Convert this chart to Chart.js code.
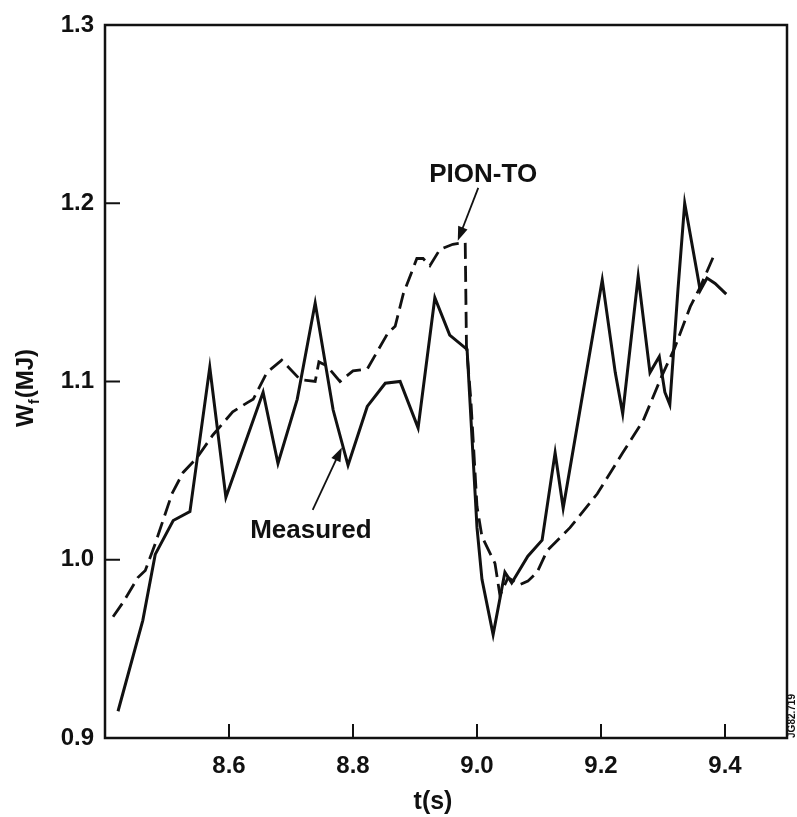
<!DOCTYPE html>
<html>
<head>
<meta charset="utf-8">
<script src="https://cdn.jsdelivr.net/npm/chart.js@4"></script>
<style>
  body { margin: 0; background: #fff; }
  #grafico { display: block; }
</style>
</head>
<body>
<canvas id="grafico" width="797" height="817"></canvas>
<script>
// valores
let measuredT = [8.421, 8.461, 8.481, 8.510, 8.537, 8.569, 8.595, 8.655, 8.679, 8.710, 8.739, 8.768, 8.792, 8.823, 8.852, 8.876, 8.905, 8.932, 8.956, 8.984, 9.000, 9.008, 9.026, 9.045, 9.056, 9.082, 9.105, 9.126, 9.139, 9.202, 9.223, 9.235, 9.260, 9.279, 9.294, 9.303, 9.311, 9.324, 9.335, 9.355, 9.360, 9.371, 9.384, 9.402]
let measuredW = [0.915, 0.966, 1.003, 1.022, 1.027, 1.108, 1.035, 1.094, 1.054, 1.090, 1.144, 1.084, 1.053, 1.086, 1.099, 1.100, 1.074, 1.147, 1.126, 1.118, 1.018, 0.989, 0.958, 0.993, 0.987, 1.002, 1.011, 1.060, 1.029, 1.157, 1.105, 1.082, 1.159, 1.105, 1.114, 1.094, 1.087, 1.151, 1.200, 1.161, 1.151, 1.158, 1.155, 1.149]

let pionT = [8.413, 8.429, 8.453, 8.465, 8.481, 8.508, 8.526, 8.548, 8.574, 8.606, 8.629, 8.639, 8.661, 8.685, 8.715, 8.739, 8.745, 8.757, 8.779, 8.800, 8.823, 8.856, 8.868, 8.881, 8.903, 8.913, 8.924, 8.940, 8.961, 8.981, 8.983, 8.990, 9.000, 9.008, 9.029, 9.037, 9.050, 9.069, 9.082, 9.097, 9.113, 9.150, 9.194, 9.235, 9.268, 9.298, 9.319, 9.344, 9.360, 9.385]
let pionW = [0.968, 0.976, 0.990, 0.994, 1.009, 1.037, 1.049, 1.057, 1.070, 1.083, 1.088, 1.090, 1.105, 1.112, 1.101, 1.100, 1.111, 1.109, 1.100, 1.106, 1.107, 1.127, 1.131, 1.149, 1.169, 1.169, 1.165, 1.174, 1.177, 1.178, 1.120, 1.090, 1.030, 1.013, 0.998, 0.980, 0.990, 0.986, 0.988, 0.993, 1.005, 1.018, 1.037, 1.060, 1.078, 1.103, 1.119, 1.142, 1.153, 1.173]

let xTicks = [8.6, 8.8, 9.0, 9.2, 9.4]
let yTicks = [0.9, 1.0, 1.1, 1.2, 1.3]

// anotacoes: texto e seta (em unidades dos eixos)
let notas = [
    { texto: 'PION-TO', t: 9.010, w: 1.216, de: [9.002, 1.2086], para: [8.969, 1.179] },
    { texto: 'Measured', t: 8.732, w: 1.016, de: [8.735, 1.028], para: [8.782, 1.063] }
]

const tinta = '#111'
const fonte = 'Liberation Sans, Arial, sans-serif'

const pares = (xs, ys) => xs.map((x, i) => ({ x: x, y: ys[i] }))

function seta(ctx, x1, y1, x2, y2) {
    let ang = Math.atan2(y2 - y1, x2 - x1)
    ctx.beginPath()
    ctx.moveTo(x1, y1)
    ctx.lineTo(x2 - 8 * Math.cos(ang), y2 - 8 * Math.sin(ang))
    ctx.lineWidth = 1.8
    ctx.stroke()
    ctx.beginPath()
    ctx.moveTo(x2, y2)
    ctx.lineTo(x2 - 14 * Math.cos(ang) + 5 * Math.sin(ang), y2 - 14 * Math.sin(ang) - 5 * Math.cos(ang))
    ctx.lineTo(x2 - 14 * Math.cos(ang) - 5 * Math.sin(ang), y2 - 14 * Math.sin(ang) + 5 * Math.cos(ang))
    ctx.closePath()
    ctx.fill()
}

const moldura = {
    id: 'moldura',
    afterDraw(chart) {
        let ctx = chart.ctx
        let a = chart.chartArea
        let sx = chart.scales.x
        let sy = chart.scales.y
        ctx.save()
        ctx.strokeStyle = tinta
        ctx.fillStyle = tinta
        ctx.lineWidth = 2.5
        ctx.strokeRect(a.left, a.top, a.right - a.left, a.bottom - a.top)

        // marcas para dentro
        ctx.lineWidth = 2
        xTicks.forEach(v => {
            let px = sx.getPixelForValue(v)
            ctx.beginPath()
            ctx.moveTo(px, a.bottom)
            ctx.lineTo(px, a.bottom - 14)
            ctx.stroke()
        })
        yTicks.forEach(v => {
            let py = sy.getPixelForValue(v)
            ctx.beginPath()
            ctx.moveTo(a.left, py)
            ctx.lineTo(a.left + 15, py)
            ctx.stroke()
        })

        // anotacoes
        ctx.font = 'bold 26px ' + fonte
        ctx.textAlign = 'center'
        ctx.textBaseline = 'middle'
        notas.forEach(n => {
            ctx.fillText(n.texto, sx.getPixelForValue(n.t), sy.getPixelForValue(n.w))
            seta(ctx, sx.getPixelForValue(n.de[0]), sy.getPixelForValue(n.de[1]),
                sx.getPixelForValue(n.para[0]), sy.getPixelForValue(n.para[1]))
        })

        // titulo do eixo x
        ctx.font = 'bold 25px ' + fonte
        ctx.textBaseline = 'alphabetic'
        ctx.fillText('t(s)', (a.left + a.right) / 2 - 13, a.bottom + 71)

        // titulo do eixo y: W com indice f
        ctx.save()
        ctx.translate(24, (a.top + a.bottom) / 2 + 7)
        ctx.rotate(-Math.PI / 2)
        ctx.textAlign = 'left'
        let f1 = 'bold 24px ' + fonte
        let f2 = 'bold 15px ' + fonte
        ctx.font = f1
        let wW = ctx.measureText('W').width
        let wP = ctx.measureText('(MJ)').width
        ctx.font = f2
        let wF = ctx.measureText('f').width
        let x0 = -(wW + wF + wP) / 2
        ctx.font = f1
        ctx.fillText('W', x0, 9)
        ctx.font = f2
        ctx.fillText('f', x0 + wW, 15)
        ctx.font = f1
        ctx.fillText('(MJ)', x0 + wW + wF + 1, 9)
        ctx.restore()

        // etiqueta lateral
        ctx.save()
        ctx.translate(792, a.bottom - 22)
        ctx.rotate(-Math.PI / 2)
        ctx.font = 'bold 10px ' + fonte
        ctx.textAlign = 'center'
        ctx.textBaseline = 'middle'
        ctx.fillText('JG82.719', 0, 0)
        ctx.restore()

        ctx.restore()
    }
}

let ctx = document.getElementById('grafico')
new Chart(ctx, {
    type: 'line',
    data: {
        datasets: [{
            label: 'Measured',
            data: pares(measuredT, measuredW),
            borderColor: tinta,
            borderWidth: 3,
            pointRadius: 0,
            tension: 0
        }, {
            label: 'PION-TO',
            data: pares(pionT, pionW),
            borderColor: tinta,
            borderWidth: 2.8,
            borderDash: [16, 7],
            pointRadius: 0,
            tension: 0
        }]
    },
    options: {
        responsive: false,
        animation: false,
        layout: { padding: { top: 25, right: 10, left: 0, bottom: 0 } },
        plugins: {
            legend: { display: false },
            tooltip: { enabled: false }
        },
        scales: {
            x: {
                type: 'linear',
                min: 8.4,
                max: 9.5,
                afterBuildTicks: s => { s.ticks = xTicks.map(v => ({ value: v })) },
                afterFit: s => { s.height = 79 },
                grid: { display: false },
                border: { display: false },
                ticks: {
                    padding: 6,
                    color: tinta,
                    font: { family: fonte, size: 24, weight: 'bold' },
                    callback: value => value.toFixed(1)
                }
            },
            y: {
                min: 0.9,
                max: 1.3,
                afterBuildTicks: s => { s.ticks = yTicks.map(v => ({ value: v })) },
                afterFit: s => { s.width = 105 },
                grid: { display: false },
                border: { display: false },
                ticks: {
                    padding: 3,
                    color: tinta,
                    font: { family: fonte, size: 24, weight: 'bold' },
                    callback: value => value.toFixed(1)
                }
            }
        }
    },
    plugins: [moldura]
});
</script>
</body>
</html>
